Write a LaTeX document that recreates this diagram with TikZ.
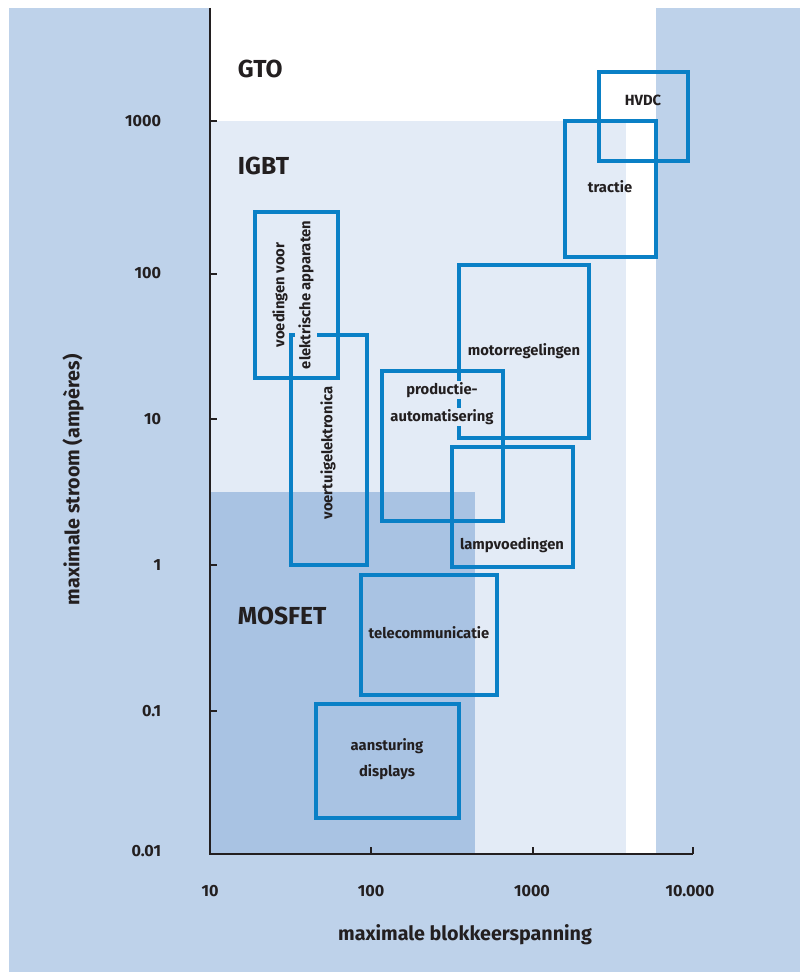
\documentclass[tikz,border=0pt]{standalone}
\usepackage{fontspec}
\setmainfont{Fira Sans}
\usetikzlibrary{fit}

\definecolor{outerbg}{HTML}{BED2EA}
\definecolor{igbtbg}{HTML}{E3EBF6}
\definecolor{mosbg}{HTML}{A9C3E3}
\definecolor{appblue}{HTML}{0A80C6}
\definecolor{inkdark}{HTML}{231F20}

\begin{document}
\begin{tikzpicture}[
    x=0.025cm, y=-0.025cm,
    appbox/.style={draw=appblue, line width=2.4pt, inner sep=0pt},
    applabel/.style={font=\fontsize{10.5}{18.5}\selectfont\bfseries, text=inkdark, align=center, inner sep=1pt},
    knockout/.style={applabel, fill=igbtbg},
    classlabel/.style={font=\fontsize{17.5}{20}\selectfont\bfseries, text=inkdark, anchor=west},
    ticklabel/.style={font=\fontsize{11.5}{13}\selectfont\bfseries, text=inkdark},
    axistitle/.style={font=\fontsize{14}{16}\selectfont\bfseries, text=inkdark},
    axisline/.style={draw=inkdark, line width=2pt}
]
\useasboundingbox (0,0) rectangle (800,972);

% Areas
\fill[outerbg] (9,8) rectangle (800,972);
\fill[white] (210,8) rectangle (656,854);
\fill[igbtbg] (210,121) rectangle (626,854);
\fill[mosbg] (210,492) rectangle (475,854);

% Application boxes
\node (hvdc) [appbox, fit={(599,72) (688,161)}] {};
\node (tractie) [appbox, fit={(565,121) (656,257)}] {};
\node (motor) [appbox, fit={(459,265) (589,438)}] {};
\node (productie) [appbox, fit={(382,371) (503,521)}] {};
\node (voeding) [appbox, fit={(255,212) (338,378)}] {};
\node (voertuig) [appbox, fit={(291,335) (367,565)}] {};
\node (lamp) [appbox, fit={(452,447) (573,567)}] {};
\node (telecom) [appbox, fit={(361,575) (497,695)}] {};
\node (display) [appbox, fit={(316,704) (459,818)}] {};

% Axes
\draw[axisline] (210,8) -- (210,854) -- (693,854);
\draw[axisline] (210,121) -- (217,121);
\draw[axisline] (210,274) -- (217,274);
\draw[axisline] (210,419) -- (217,419);
\draw[axisline] (210,565) -- (217,565);
\draw[axisline] (210,711) -- (217,711);
\draw[axisline] (371,854) -- (371,847);
\draw[axisline] (533,854) -- (533,847);
\draw[axisline] (693,854) -- (693,847);

% Tick labels
\node (y1000) [ticklabel, anchor=east] at (166,121) {1000};
\node (y100) [ticklabel, anchor=east] at (166,273) {100};
\node (y10) [ticklabel, anchor=east] at (166,419) {10};
\node (y1) [ticklabel, anchor=east] at (166,565) {1};
\node (y01) [ticklabel, anchor=east] at (166,711) {0.1};
\node (y001) [ticklabel, anchor=east] at (166,851) {0.01};
\node (x10) [ticklabel] at (210,891) {10};
\node (x100) [ticklabel] at (371,891) {100};
\node (x1000) [ticklabel] at (532,891) {1000};
\node (x10000) [ticklabel] at (690,891) {10.000};

% Axis titles
\node (xtitle) [axistitle] at (465,935) {maximale blokkeerspanning};
\node (ytitle) [axistitle, rotate=90] at (73,480) {maximale stroom (ampères)};

% Classes
\node (gto) [classlabel] at (233,69) {GTO};
\node (igbt) [classlabel] at (233,166) {IGBT};
\node (mosfet) [classlabel] at (233,616) {MOSFET};

% Labels
\node (hvdclbl) [applabel] at (643,100) {HVDC};
\node (tractielbl) [applabel] at (610,187) {tractie};
\node (motorlbl) [applabel] at (524,351) {motorregelingen};
\node (productielbla) [knockout] at (442,390) {productie-};
\node (productielblb) [knockout] at (442,417) {automatisering};
\node (voedinglbla) [applabel, rotate=90] at (280,295) {voedingen voor};
\node (voedinglblb) [knockout, inner sep=2.5pt, rotate=90] at (306,295) {elektrische apparaten};
\node (voertuiglbl) [applabel, rotate=90] at (328,453) {voertuigelektronica};
\node (lamplbl) [applabel] at (512,545) {lampvoedingen};
\node (telecomlbl) [applabel] at (429,633) {telecommunicatie};
\node (displaylbl) [applabel] at (387,759) {aansturing\\displays};

\end{tikzpicture}
\end{document}
